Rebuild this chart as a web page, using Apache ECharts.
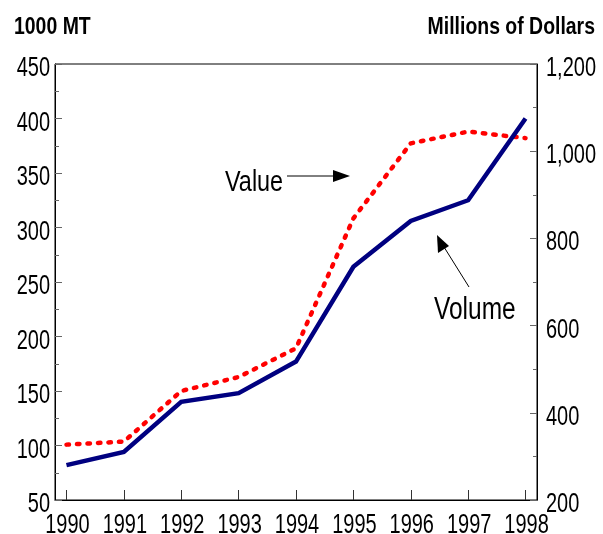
<!DOCTYPE html>
<html>
<head>
<meta charset="utf-8">
<script src="https://cdn.jsdelivr.net/npm/echarts@6/dist/echarts.min.js"></script>
<style>
html,body{margin:0;padding:0;background:#fff;}
#main{width:603px;height:534px;}
</style>
</head>
<body>
<div id="main"></div>
<script>
// ---- data ----
const years = [1990, 1991, 1992, 1993, 1994, 1995, 1996, 1997, 1998];
const volume = [82, 94, 140, 148, 177, 264, 306, 325, 400];
const valueDollars = [327, 334, 450, 482, 548, 846, 1018, 1045, 1030];
const xTickLabels = ['1990', '1991', '1992', '1993', '1994', '1995', '1996', '1997', '1998'];
const leftTickValues = [50, 100, 150, 200, 250, 300, 350, 400, 450];
const leftTickLabels = ['50', '100', '150', '200', '250', '300', '350', '400', '450'];
const rightTickValues = [200, 400, 600, 800, 1000, 1200];
const rightTickLabels = ['200', '400', '600', '800', '1,000', '1,200'];
const leftAxisTitle = '1000 MT';
const rightAxisTitle = 'Millions of Dollars';
const valueLabel = 'Value';
const volumeLabel = 'Volume';

const FONT = "'Liberation Sans', Arial, Helvetica, sans-serif";
const SQ = 0.74; // horizontal squeeze of the original typeface

const chart = echarts.init(document.getElementById('main'), null, {renderer: 'canvas'});
chart.setOption({
  animation: false,
  backgroundColor: '#fff',
  grid: {left: 55, right: 66, top: 64, bottom: 34, show: true, borderColor: '#000', borderWidth: 1},
  xAxis: {
    type: 'value', min: 1989.8, max: 1998.2,
    splitLine: {show: false},
    axisLine: {show: true, lineStyle: {color: '#000', width: 1}},
    axisTick: {show: true, inside: true, length: 10, customValues: years, lineStyle: {color: '#333'}},
    axisLabel: {show: false}
  },
  yAxis: [
    {
      type: 'value', min: 50, max: 450, interval: 50, position: 'left',
      splitLine: {show: false},
      axisLine: {show: true, lineStyle: {color: '#000', width: 1}},
      axisTick: {show: true, inside: true, length: 7, lineStyle: {color: '#666'}},
      minorTick: {show: true, splitNumber: 2, length: 4, lineStyle: {color: '#666'}},
      axisLabel: {show: false}
    },
    {
      type: 'value', min: 200, max: 1200, interval: 200, position: 'right',
      splitLine: {show: false},
      axisLine: {show: true, lineStyle: {color: '#000', width: 1}},
      axisTick: {show: true, inside: true, length: 7, lineStyle: {color: '#666'}},
      minorTick: {show: true, splitNumber: 2, length: 4, lineStyle: {color: '#666'}},
      axisLabel: {show: false}
    }
  ],
  series: [
    {
      name: 'Value', type: 'line', yAxisIndex: 1,
      data: years.map((y, i) => [y, valueDollars[i]]),
      showSymbol: false, symbol: 'none',
      lineStyle: {color: '#ff0000', width: 4.5, type: [2.5, 8], cap: 'round', join: 'round'},
      z: 2
    },
    {
      name: 'Volume', type: 'line', yAxisIndex: 0,
      data: years.map((y, i) => [y, volume[i]]),
      showSymbol: false, symbol: 'none',
      lineStyle: {color: '#000080', width: 4.5, cap: 'butt', join: 'miter'},
      z: 3
    }
  ]
});

// Tick labels and titles as real text, placed through the library's own scales
const g = [];
const xMinPx = chart.convertToPixel({xAxisIndex: 0}, 1989.8);
const xMaxPx = chart.convertToPixel({xAxisIndex: 0}, 1998.2);
const yBottomPx = chart.convertToPixel({yAxisIndex: 0}, 50);
const yTopPx = chart.convertToPixel({yAxisIndex: 0}, 450);
const tickFont = '27px ' + FONT;

years.forEach((yr, i) => {
  g.push({type: 'text', x: chart.convertToPixel({xAxisIndex: 0}, yr) + 1, y: yBottomPx + 12.5, scaleX: SQ,
    style: {text: xTickLabels[i], font: tickFont, fill: '#000', align: 'center', verticalAlign: 'top'}});
});
leftTickValues.forEach((v, i) => {
  g.push({type: 'text', x: xMinPx - 5, y: chart.convertToPixel({yAxisIndex: 0}, v) + 5, scaleX: SQ,
    style: {text: leftTickLabels[i], font: tickFont, fill: '#000', align: 'right', verticalAlign: 'middle'}});
});
rightTickValues.forEach((v, i) => {
  g.push({type: 'text', x: xMaxPx + 9, y: chart.convertToPixel({yAxisIndex: 1}, v) + 4.5, scaleX: SQ,
    style: {text: rightTickLabels[i], font: tickFont, fill: '#000', align: 'left', verticalAlign: 'middle'}});
});

// axis titles
g.push({type: 'text', x: 14, y: 27, scaleX: 0.81,
  style: {text: leftAxisTitle, font: 'bold 24px ' + FONT, fill: '#000', align: 'left', verticalAlign: 'middle'}});
g.push({type: 'text', x: 595, y: 27, scaleX: 0.81,
  style: {text: rightAxisTitle, font: 'bold 24px ' + FONT, fill: '#000', align: 'right', verticalAlign: 'middle'}});

// annotations
g.push({type: 'text', x: 225, y: 183, scaleX: 0.78,
  style: {text: valueLabel, font: '30px ' + FONT, fill: '#000', align: 'left', verticalAlign: 'middle'}});
g.push({type: 'line', shape: {x1: 287, y1: 176, x2: 336, y2: 176}, style: {stroke: '#000', lineWidth: 1}});
g.push({type: 'polygon', shape: {points: [[350, 176], [333, 170], [333, 182]]}, style: {fill: '#000'}});
g.push({type: 'text', x: 434, y: 310.5, scaleX: 0.79,
  style: {text: volumeLabel, font: '31px ' + FONT, fill: '#000', align: 'left', verticalAlign: 'middle'}});
g.push({type: 'line', shape: {x1: 469, y1: 287, x2: 444, y2: 247}, style: {stroke: '#000', lineWidth: 1}});
g.push({type: 'polygon', shape: {points: [[437, 235], [438, 253], [449, 246]]}, style: {fill: '#000'}});

chart.setOption({graphic: g});
</script>
</body>
</html>
